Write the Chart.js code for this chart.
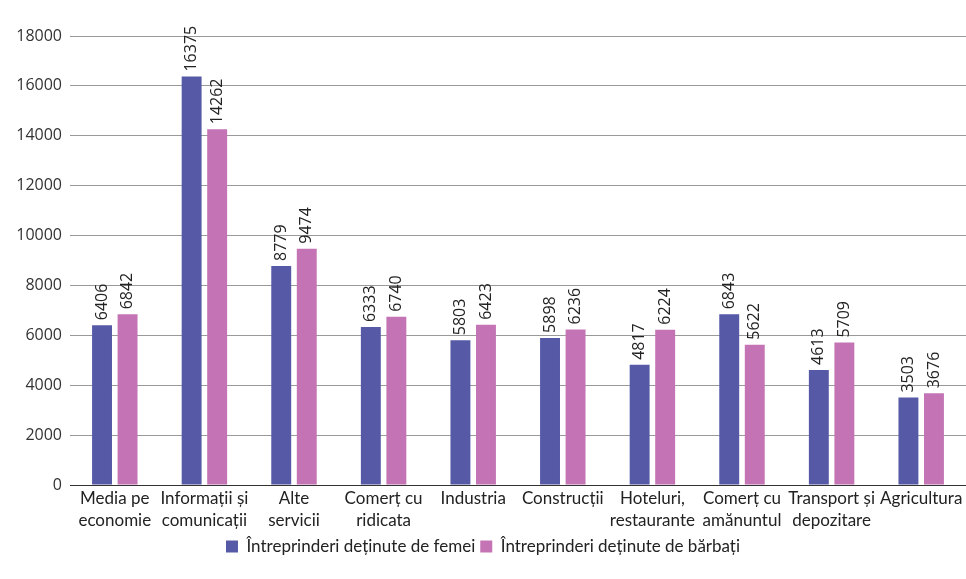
<!DOCTYPE html>
<html>
<head>
<meta charset="utf-8">
<script src="https://cdn.jsdelivr.net/npm/chart.js@4"></script>
<style>
  html, body { margin: 0; padding: 0; background: #fff; }
  #wrap { width: 966px; height: 579px; }
</style>
</head>
<body>
<div id="wrap"><canvas id="c" width="966" height="579"></canvas></div>
<script>
const categories = [
  ["Media pe", "economie"],
  ["Informații și", "comunicații"],
  ["Alte", "servicii"],
  ["Comerț cu", "ridicata"],
  "Industria",
  "Construcții",
  ["Hoteluri,", "restaurante"],
  ["Comerț cu", "amănuntul"],
  ["Transport și", "depozitare"],
  "Agricultura"
];
const seriesNames = ["Întreprinderi deținute de femei", "Întreprinderi deținute de bărbați"];
const femei = [6406, 16375, 8779, 6333, 5803, 5898, 4817, 6843, 4613, 3503];
const barbati = [6842, 14262, 9474, 6740, 6423, 6236, 6224, 5622, 5709, 3676];
const yTicks = [0, 2000, 4000, 6000, 8000, 10000, 12000, 14000, 16000, 18000];

const valueLabels = {
  id: 'valueLabels',
  afterDatasetsDraw(chart) {
    const ctx = chart.ctx;
    ctx.save();
    ctx.font = '16px "Open Sans"';
    ctx.fillStyle = '#222';
    ctx.textAlign = 'left';
    ctx.textBaseline = 'middle';
    chart.data.datasets.forEach((ds, i) => {
      chart.getDatasetMeta(i).data.forEach((bar, j) => {
        ctx.save();
        ctx.translate(bar.x, bar.y - 5);
        ctx.rotate(-Math.PI / 2);
        ctx.fillText(String(ds.data[j]), 0, 0);
        ctx.restore();
      });
    });
    ctx.restore();
  }
};

new Chart(document.getElementById('c'), {
  type: 'bar',
  data: {
    labels: categories,
    datasets: [
      { label: seriesNames[0], data: femei, backgroundColor: '#5659A6', categoryPercentage: 0.57, barPercentage: 0.78 },
      { label: seriesNames[1], data: barbati, backgroundColor: '#C474B4', categoryPercentage: 0.57, barPercentage: 0.78 }
    ]
  },
  options: {
    responsive: false,
    animation: false,
    devicePixelRatio: 1,
    layout: { padding: { top: 36, right: 0, left: 0, bottom: 14 } },
    plugins: {
      legend: {
        position: 'bottom',
        labels: {
          font: { family: 'Lato', size: 17 },
          color: '#222',
          boxWidth: 12,
          boxHeight: 12,
          padding: 5
        }
      },
      tooltip: { enabled: false }
    },
    scales: {
      x: {
        grid: { display: false, drawTicks: false },
        border: { display: true, color: '#333', width: 1 },
        ticks: {
          font: { family: 'Lato', size: 17, lineHeight: 1.3 },
          color: '#222',
          maxRotation: 0,
          autoSkip: false,
          padding: 2
        },
        afterFit(scale) { scale.height = 48; }
      },
      y: {
        min: 0,
        max: 18000,
        z: 1,
        afterBuildTicks(scale) { scale.ticks = yTicks.map(v => ({ value: v })); },
        grid: {
          color: (c) => c.tick && c.tick.value === 0 ? '#333' : 'rgba(0,0,0,0.4)',
          drawTicks: false
        },
        border: { display: false },
        ticks: {
          font: { family: 'Open Sans', size: 16 },
          color: '#333',
          padding: 8,
          callback: (v) => String(v)
        },
        afterFit(scale) { scale.width = 70; }
      }
    }
  },
  plugins: [valueLabels]
});
</script>
</body>
</html>
